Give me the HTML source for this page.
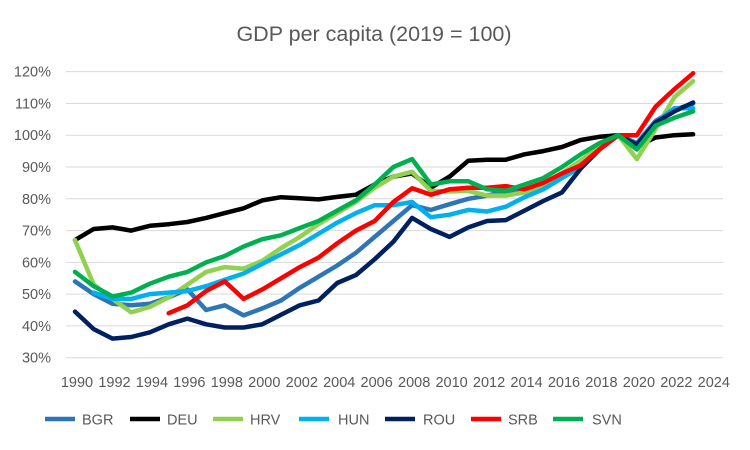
<!DOCTYPE html>
<html><head><meta charset="utf-8"><style>
body{margin:0;background:#fff;}
svg{display:block;font-family:"Liberation Sans",sans-serif;}
</style></head><body>
<svg id="c" width="750" height="450" xmlns="http://www.w3.org/2000/svg"></svg>
<script>
const s=document.getElementById('c');
const X=y=>75+(y-1990)*18.73, Y=v=>357.7-(v-30)*3.178;
let h='<rect width="750" height="450" fill="#fff"/>';
h+='<text x="374" y="41" text-anchor="middle" font-size="21.5" fill="#595959">GDP per capita (2019 = 100)</text>';
for(let v=30;v<=120;v+=10){const y=Y(v);h+=`<line x1="66" x2="723" y1="${y}" y2="${y}" stroke="#d9d9d9" stroke-width="1"/>`;h+=`<text x="51" y="${y+5}" text-anchor="end" font-size="14.5" fill="#595959">${v}%</text>`;}
for(let yr=1990;yr<=2024;yr+=2){h+=`<text x="${X(yr)+2}" y="387" text-anchor="middle" font-size="14.5" fill="#595959">${yr}</text>`;}
const D={
BGR:['#2E75B6',1990,[54,50,47,46.5,47,49,51.5,45,46.5,43.3,45.5,48,52,55.5,59,63,68,73,78,76.5,78.3,80,81,82.3,83,84.5,87.5,91,95.5,100,97.5,104.5,108,110]],
DEU:['#000000',1990,[67,70.5,71,70,71.5,72,72.7,74,75.5,77,79.5,80.5,80.2,79.8,80.6,81.3,84.5,87,88,83.5,87,92,92.3,92.3,94,95,96.3,98.5,99.5,100,96.5,99.3,100,100.3]],
HRV:['#92D050',1990,[67,53,48.5,44.3,46,49,53,57,58.5,58,60.5,64.5,68,72,75.5,79,83.5,87,88.5,82.5,82.3,82.5,81,81,82,84,88,92,96.5,100,92.5,102,112,117]],
HUN:['#00B0F0',1991,[50.5,48.5,48.5,50,50.5,51,52.5,54.5,56.5,59.5,62.5,65.5,69,72.5,75.5,78,78,79,74.2,75,76.5,76,77.5,80.5,83,86.5,90,95.5,100,96,104,108.5,108.5]],
ROU:['#002060',1990,[44.5,39,36,36.5,38,40.5,42.3,40.5,39.5,39.5,40.5,43.5,46.5,48,53.5,56,61,66.5,74,70.5,68,71,73,73.3,76.3,79.3,82,89.5,95.5,100,97,104,107.5,110.3]],
SRB:['#FF0000',1995,[44,46.5,51,54,48.5,51.5,55,58.5,61.5,66,70,73,79,83.3,81.3,83,83.5,83.5,84,83,85,88,90.5,95.5,100,100,109,114.5,119.5]],
SVN:['#00B050',1990,[57,52.5,49.3,50.5,53.3,55.5,57,60,62,65,67.3,68.5,70.8,73,76.3,79.5,84.5,90,92.5,84.5,85.5,85.5,83,82.5,84.5,86.5,90,94,97.5,100,95.5,103,105.5,107.5]]};
const L={BGR:[45,82],DEU:[130,167],HRV:[213,250],HUN:[299,338],ROU:[385,423],SRB:[471,508],SVN:[553,592]};
for(const k in D){const [c,st,a]=D[k];
h+=`<polyline fill="none" stroke="${c}" stroke-width="4.5" stroke-linejoin="round" stroke-linecap="round" points="${a.map((v,i)=>X(st+i).toFixed(1)+','+Y(v).toFixed(1)).join(' ')}"/>`;
const [sx,tx]=L[k];h+=`<line x1="${sx}" x2="${sx+30}" y1="419" y2="419" stroke="${c}" stroke-width="4.5"/><text x="${tx}" y="424.5" font-size="14.5" fill="#595959">${k}</text>`;}
s.innerHTML=h;
</script>
</body></html>
